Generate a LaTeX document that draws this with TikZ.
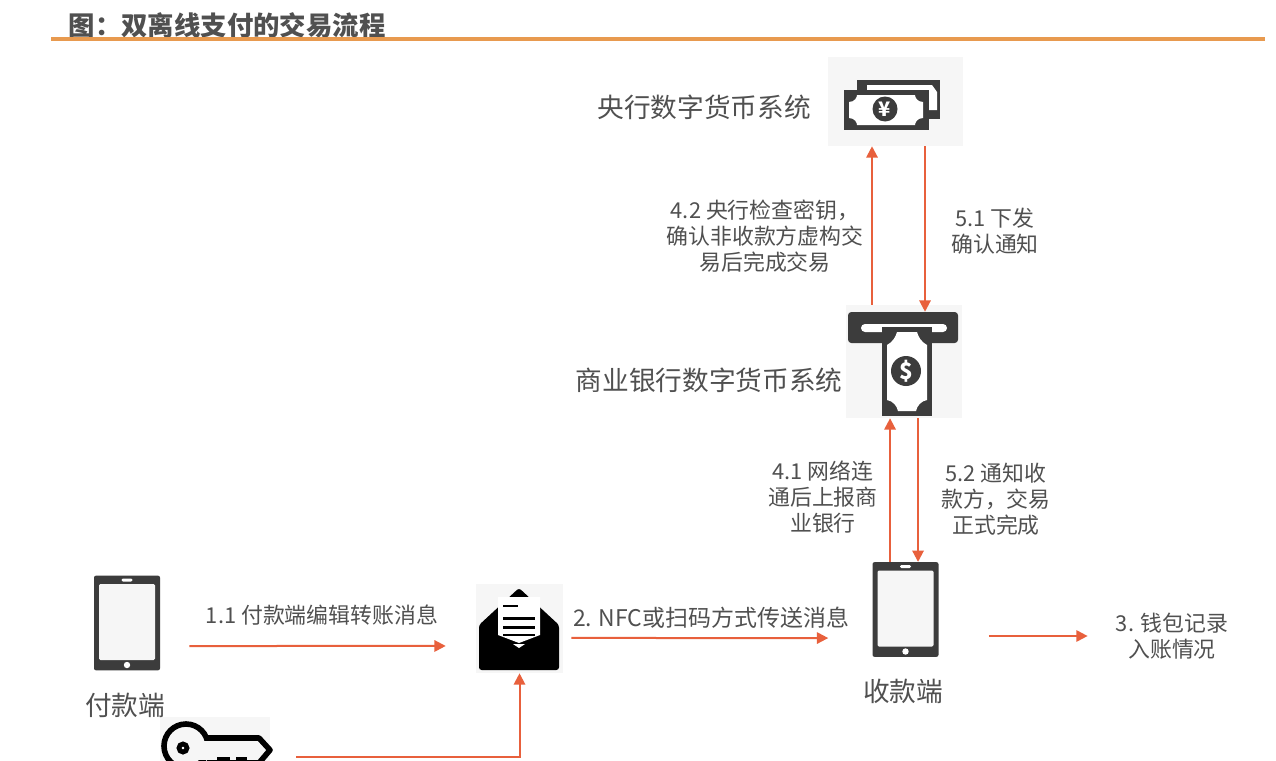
\documentclass[tikz,border=0pt]{standalone}
\usepackage{fontspec}
\setmainfont{Noto Sans CJK SC}
\usetikzlibrary{arrows.meta, positioning, calc}
\definecolor{flowred}{HTML}{E8603C}
\definecolor{icondark}{HTML}{3C3C3C}
\definecolor{iconbg}{HTML}{F6F6F6}
\definecolor{textgray}{HTML}{505050}
\definecolor{ruleorange}{HTML}{E89A4F}
\tikzset{
    tablet/.pic={
        \node[fill=icondark, rounded corners=1.5pt, minimum width=49.5pt, minimum height=71pt, inner sep=0pt] (-body) at (0,0) {};
        \fill[iconbg, rounded corners=1pt] (-28,-39) rectangle (28,37);
        \fill[white, rounded corners=1pt] (-5.5,-44.5) rectangle (5.5,-41.5);
        \fill[white] (0,42) circle[radius=3.2];
    }
}
\begin{document}
\begin{tikzpicture}[
    x=0.75pt, y=-0.75pt,
    every node/.style={text=textgray},
    flow/.style={-{Triangle[length=8.5pt, width=8.5pt]}, flowred, line width=1.5pt},
    note/.style={font=\fontsize{16.4}{19.5}\selectfont, align=center, inner sep=0pt},
    caption/.style={font=\fontsize{20}{24}\selectfont, inner sep=0pt},
    iconbox/.style={fill=iconbg, inner sep=0pt}
]
    \clip (0,0) rectangle (1276,760);
    \fill[white] (0,0) rectangle (1276,760);

    % title
    \node[font=\fontsize{19.8}{24}\selectfont\bfseries, inner sep=0pt] (title) at (227,25) {图：双离线支付的交易流程};
    \coordinate (ruleleft) at (51,39);
    \coordinate (ruleright) at (1265,39);
    \draw[ruleorange, line width=2.6pt] (ruleleft) -- (ruleright);

    % central bank notes
    \node[iconbox, minimum width=101.25pt, minimum height=66.75pt] (cash) at (895.5,101.5) {};
    \fill[icondark] (857,80) rectangle (940,119);
    \fill[white] (867,85) -- (932,85) -- (937,92) -- (937,110) -- (929,110) -- (929,90) -- (867,90) -- cycle;
    \fill[icondark] (844,90) rectangle (929,130);
    \fill[white] (849,102) .. controls (855,102) and (857,97) .. (857,95) -- (915,95) .. controls (915,97) and (917,102) .. (923,102)
        -- (923,118) .. controls (917,118) and (915,123) .. (915,125) -- (857,125) .. controls (857,123) and (855,118) .. (849,118) -- cycle;
    \fill[icondark] (885,109) circle[radius=12.5];
    \node[text=white, font=\fontsize{15}{15}\selectfont\bfseries, inner sep=0pt] (yen) at (885,109) {¥};

    % commercial bank machine
    \node[iconbox, minimum width=87pt, minimum height=84.75pt] (atm) at (904,361.5) {};
    \node[fill=icondark, rounded corners=2.5pt, minimum width=82.5pt, minimum height=23.25pt, inner sep=0pt] (atmbar) at (903,327.5) {};
    \fill[white, rounded corners=3pt] (861,324) rectangle (947,332);
    \fill[icondark] (882,326) rectangle (932,416);
    \fill[white] (882,325) rectangle (932,326.5);
    \fill[white] (887,345) .. controls (893,342) and (896,336) .. (897,332) -- (917,332) .. controls (918,336) and (921,342) .. (927,345)
        -- (927,400) .. controls (921,401) and (917,406) .. (916,411) -- (898,411) .. controls (897,406) and (893,401) .. (887,400) -- cycle;
    \fill[icondark] (906,371) circle[radius=15];
    \node[text=white, font=\fontsize{17}{17}\selectfont\bfseries, inner sep=0pt] (dollar) at (906,371) {\$};

    % message envelope
    \node[iconbox, minimum width=65.25pt, minimum height=66.75pt] (mail) at (519.5,628.5) {};
    \fill[black, rounded corners=2pt] (479,625) -- (519,588) -- (559,625) -- (559,670) -- (479,670) -- cycle;
    \fill[white] (498,597) -- (540,597) -- (540,635) -- (519,643) -- (498,635) -- cycle;
    \fill[white] (513,644) -- (525,644) -- (519,648) -- cycle;
    \fill[black] (503,604.5) rectangle (518,607);
    \foreach \ly in {617, 626, 633.5}
        \fill[black] (503,\ly) rectangle (535,\ly+2.5);

    % key
    \node[iconbox, minimum width=82.5pt, minimum height=60pt] (key) at (215,757) {};
    \draw[black, line width=4.2pt, line join=round] (207,738) -- (259,738) -- (270,750) -- (259,763) -- (207,763);
    \draw[black, line width=4.2pt, fill=iconbg] (186,746) circle[radius=22];
    \fill[iconbg] (199,741) rectangle (212,760);
    \draw[black, line width=3.6pt] (183,748) circle[radius=4];
    \fill[black] (217,757) rectangle (230,765);
    \fill[black] (236,757) rectangle (247,765);

    % devices
    \pic (payer) at (127,623) {tablet};
    \pic (payee) at (905.5,609.5) {tablet};

    % texts
    \node[caption] (pbclabel) at (704,107) {央行数字货币系统};
    \node[caption] (banklabel) at (709,380) {商业银行数字货币系统};
    \node[caption] (payerlabel) at (125,705) {付款端};
    \node[caption] (payeelabel) at (903,691) {收款端};
    \node[note] (n42) at (765,236) {4.2 央行检查密钥，\\确认非收款方虚构交\\易后完成交易};
    \node[note] (n51) at (995,231) {5.1 下发\\确认通知};
    \node[note] (n41) at (823,497) {4.1 网络连\\通后上报商\\业银行};
    \node[note] (n52) at (996,499) {5.2 通知收\\款方，交易\\正式完成};
    \node[note] (n11) at (322,615) {1.1 付款端编辑转账消息};
    \node[note, font=\fontsize{17.2}{19.5}\selectfont] (n2) at (711,618) {2. NFC或扫码方式传送消息};
    \node[note] (wallet) at (1172,636) {3. 钱包记录\\入账情况};

    % arrows
    \draw[flow] ([xshift=-24pt]atm.north) -- ([xshift=-24pt]atm.north |- cash.south);
    \draw[flow] ([xshift=15.75pt]atm.north |- cash.south) -- ([xshift=15.75pt]atm.north |- atmbar.north);
    \draw[flow] ([xshift=-11.6pt]payee-body.north) -- ([xshift=-11.6pt]payee-body.north |- atm.south);
    \draw[flow] ([xshift=9.4pt]payee-body.north |- atm.south) -- ([xshift=9.4pt]payee-body.north);
    \draw[flow] ([shift={(21.75pt,-17.25pt)}]payer-body.east) -- ([shift={(-22.5pt,-13.1pt)}]mail.west);
    \draw[flow] ([shift={(6pt,-7.1pt)}]mail.east) -- ([shift={(-33pt,-21.4pt)}]payee-body.west);
    \draw[flow] ([xshift=37.5pt]payee-body.east |- wallet.west) -- ([xshift=-21pt]wallet.west);
    \draw[flow] ([xshift=19.5pt]key.east) -| (mail.south);
\end{tikzpicture}
\end{document}
